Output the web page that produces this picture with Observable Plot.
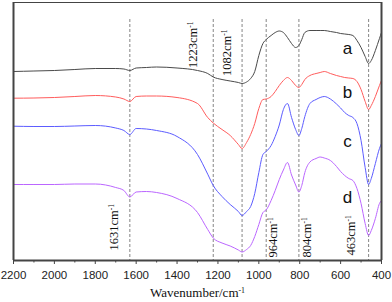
<!DOCTYPE html>
<html><head><meta charset="utf-8">
<script src="https://cdn.jsdelivr.net/npm/d3@7"></script>
<script src="https://cdn.jsdelivr.net/npm/@observablehq/plot@0.6"></script>
<style>body{margin:0;background:#fff} #chart svg{display:block}</style>
</head><body><div id="chart"></div>
<script>
// Wavenumber grid (cm^-1) and relative transmittance (arbitrary units)
const wavenumbers = [2200,2100,2000,1900,1800,1700,1660,1631,1600,1550,1500,1400,1300,1250,1223,1180,1140,1100,1082,1060,1040,1020,1000,980,964,940,920,900,880,860,840,820,804,790,775,750,720,700,680,650,620,600,580,560,540,520,500,480,463,450,430,410,400];
const seriesA = [189,189.5,190,191,192,192,191.5,190,192.5,193,193.5,192.5,190,187,183.5,181,179.5,178,177,178.5,182,189,205,217,221,225,228,229.5,228,223,217,213,215,221,228,230,230,230,230,229,228,227,226.5,226,225,220,213,204,197,200,210,222,228];
const seriesB = [162.3,162.5,163,164,165,163.5,161.5,159,164,164.5,164.5,163,157,143,137.5,131,125,116,112,118,126,137,152,161,161.5,164,169,175,180,183,180,175,173,176,181,185,187,188,189,187,185,184,183,182.5,182,179,171,159,151,155,164,175,180];
const seriesC = [134.3,134,134,134.5,135,132.5,130,126,132,131.5,130,124,106,86.3,75,64,56,49,45,49,54,67,88,106,109,115,124,135.5,151,157,143,131,125,132,144,157,161,163,164,161.5,156.5,152.5,148,145,143,137,120,93,76,82,97,112,117];
const seriesD = [76,76,76,76.5,76.5,73,70,63.5,68.5,69,68,62,48,31,22.5,17.5,14.5,10.5,8.5,11,15,24,36,48,50.5,60,70,81,90.5,98,85.5,75.5,68.5,75,88,98.5,102,103.5,102.5,100,94,89,85,82,80,72,57,37,25,30,42,57,60];

const seriesNames = ["a","b","c","d"];
const seriesValues = [seriesA, seriesB, seriesC, seriesD];
const seriesColors = ["#4a4a4a","#ff5c5c","#5c5cff","#bb66ff"];

const peakWavenumbers = [1631,1223,1082,964,804,463];
const peakLabels = ["1631cm-1","1223cm-1","1082cm-1","964cm-1","804cm-1","463cm-1"];
// label placement (styling): anchor side and pixel offsets
const peakLabelPlacement = [
  {side:"bottom", dx:-16, dy:-10},
  {side:"top", dx:-20, dy:19},
  {side:"top", dx:-15, dy:27},
  {side:"bottom", dx:7, dy:-3},
  {side:"bottom", dx:8, dy:-3},
  {side:"bottom", dx:-18, dy:-5}
];

const majorTicks = [2200,2000,1800,1600,1400,1200,1000,800,600,400];
const minorTicks = [2100,1900,1700,1500,1300,1100,900,700,500];

const letterWavenumber = 566;
const letterLevels = [212,168,119,63];

const rows = [];
seriesNames.forEach((name, i) => wavenumbers.forEach((w, j) => rows.push({series: name, wn: w, t: seriesValues[i][j]})));
const letters = seriesNames.map((name, i) => ({name, wn: letterWavenumber, level: letterLevels[i]}));

const serif = "'Liberation Serif','Times New Roman',serif";
const sans = "'Liberation Sans',Arial,sans-serif";

const peakMarks = peakWavenumbers.map((w, i) => {
  const p = peakLabelPlacement[i];
  return Plot.text([w], {
    x: d => d, text: () => peakLabels[i], rotate: -90,
    frameAnchor: p.side, textAnchor: p.side === "bottom" ? "start" : "end", lineAnchor: "middle",
    dx: p.dx, dy: p.dy, fontSize: 12.5, fontFamily: serif, fill: "#111"
  });
});

const svg = Plot.plot({
  width: 392, height: 302,
  marginLeft: 13, marginRight: 11, marginTop: 2, marginBottom: 42,
  style: {fontFamily: serif, background: "#fff", color: "#222"},
  x: {domain: [2200, 400]},
  y: {domain: [0, 258], axis: null},
  color: {domain: seriesNames, range: seriesColors},
  marks: [
    Plot.ruleX(peakWavenumbers, {stroke: "#666", strokeDasharray: "3,2", strokeWidth: 0.8, insetTop: 17}),
    Plot.line(rows, {x: "wn", y: "t", z: "series", stroke: "series", curve: "monotone-x", strokeWidth: 1}),
    Plot.ruleY([0], {stroke: "#444", strokeWidth: 2}),
    Plot.ruleY([258], {stroke: "#444", strokeWidth: 1}),
    Plot.ruleX([2200, 400], {stroke: "#444", strokeWidth: 2}),
    Plot.axisX(majorTicks, {tickSize: 4, tickPadding: 6, fontSize: 11.5, fontFamily: sans, label: null, tickFormat: d => String(d), stroke: "#444"}),
    Plot.axisX(minorTicks, {tickSize: 2.5, tickFormat: () => "", label: null, stroke: "#444"}),
    ...peakMarks,
    Plot.text(letters, {x: "wn", y: "level", text: "name", fontSize: 17, fontFamily: sans, fill: "#111"}),
    Plot.text(["Wavenumber/cm-1"], {frameAnchor: "bottom", dy: 36, fontSize: 13, fontFamily: serif, fill: "#111"})
  ]
});

d3.select(svg).selectAll("text").each(function() {
  const m = /^(.*cm)-1$/.exec(this.textContent);
  if (m) {
    const t = d3.select(this);
    t.text(m[1]);
    t.append("tspan").attr("dy", "-0.5em").attr("font-size", "0.6em").text("-1");
  }
});

document.getElementById("chart").appendChild(svg);
</script>
</body></html>
